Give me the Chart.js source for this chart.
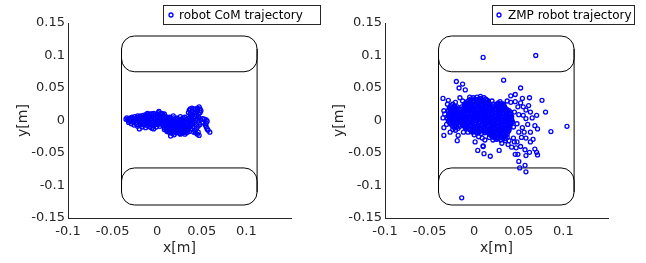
<!DOCTYPE html>
<html><head><meta charset="utf-8">
<script src="https://cdn.jsdelivr.net/npm/chart.js@4"></script>
<style>
html,body{margin:0;padding:0;background:#fff;}
#wrap{position:relative;width:646px;height:263px;overflow:hidden;}
.c{position:absolute;top:0;width:323px;height:263px;}
</style></head><body>
<div id="wrap">
<div class="c" style="left:0"><canvas id="c1"></canvas></div>
<div class="c" style="left:323px"><canvas id="c2"></canvas></div>
</div>
<script>
// ---- axes ----
const xTicks = [-0.1, -0.05, 0, 0.05, 0.1];
const yTicks = [-0.15, -0.1, -0.05, 0, 0.05, 0.1, 0.15];
const xRange = [-0.1, 0.15];
const yRange = [-0.15, 0.15];
const xTitle = 'x[m]';
const yTitle = 'y[m]';
// ---- foot support outline (data units) ----
const footX = [-0.04, 0.112];
const footTopBand = [0.075, 0.13];
const footBottomBand = [-0.13, -0.073];
// ---- series ----
const comLabel = 'robot CoM trajectory';
const zmpLabel = 'ZMP robot trajectory';

const comPoints = [
[-0.035,0.002],[-0.034,0.004],[-0.033,0.001],[-0.032,0.003],[-0.031,-0.001],[-0.030,0.004],[-0.029,0.001],[-0.028,0.005],[-0.027,-0.002],[-0.026,0.003],[-0.025,0.006],[-0.024,0.000],[-0.023,0.004],[-0.022,-0.003],[-0.021,0.005],[-0.020,0.001],[-0.019,0.007],[-0.018,-0.002],[-0.017,0.004],[-0.016,0.008],[-0.015,0.000],[-0.014,0.005],[-0.013,-0.003],[-0.012,0.007],[-0.011,0.002],[-0.010,0.009],[-0.009,-0.001],[-0.008,0.006],[-0.007,0.003],[-0.006,0.010],[-0.005,-0.002],[-0.004,0.007],[-0.003,0.002],[-0.002,0.009],[-0.001,-0.003],[0.000,0.005],[0.001,0.012],[0.002,0.001],[0.003,0.008],[0.004,-0.002],[0.005,0.006],[0.006,0.010],[0.007,0.002],[0.008,0.007],
[-0.032,-0.003],[-0.029,-0.005],[-0.026,-0.007],[-0.024,-0.004],[-0.022,-0.009],[-0.020,-0.013],[-0.019,-0.006],[-0.017,-0.010],[-0.015,-0.007],[-0.013,-0.011],[-0.011,-0.008],[-0.009,-0.005],[-0.008,-0.010],[-0.006,-0.012],[-0.004,-0.013],[-0.003,-0.007],[-0.001,-0.010],[0.001,-0.006],[0.003,-0.009],[0.005,-0.004],
[-0.022,0.007],[-0.018,0.006],[-0.013,0.009],[-0.011,0.011],[-0.008,0.010],[-0.004,0.011],[0.000,0.010],[0.002,0.014],[0.005,0.011],[0.008,0.010],[-0.015,0.003],[-0.010,0.004],[-0.006,0.002],[-0.002,0.004],[0.002,0.005],[-0.020,-0.004],[-0.017,0.001],[-0.012,-0.005],[-0.007,-0.006],[-0.003,-0.004],[0.001,-0.002],[0.004,0.003],
[-0.030,0.001],[-0.027,0.003],[-0.024,0.002],[-0.021,0.000],[-0.018,0.002],[-0.015,0.004],[-0.012,0.001],[-0.009,0.003],[-0.006,0.000],[-0.003,0.001],[0.000,0.000],[0.003,0.002],[0.006,0.000],[-0.023,-0.006],[-0.016,-0.004],[-0.010,-0.002],[-0.005,-0.008],[-0.002,-0.005],[0.002,-0.004],[0.006,-0.003],
[0.010,0.006],[0.014,0.005],[0.018,0.007],[0.022,0.004],[0.026,0.006],[0.031,0.005],
[0.009,0.003],[0.012,0.002],[0.016,0.003],[0.019,0.001],[0.023,0.003],[0.027,0.002],[0.031,0.001],[0.034,0.003],
[0.008,0.000],[0.011,-0.001],[0.014,0.000],[0.017,-0.002],[0.020,0.000],[0.024,-0.001],[0.028,0.000],[0.032,-0.002],[0.036,0.000],
[0.007,-0.004],[0.010,-0.003],[0.013,-0.005],[0.016,-0.003],[0.019,-0.004],[0.022,-0.003],[0.025,-0.005],[0.029,-0.003],[0.033,-0.004],[0.037,-0.003],
[0.006,-0.007],[0.009,-0.008],[0.012,-0.006],[0.015,-0.008],[0.018,-0.007],[0.021,-0.008],[0.024,-0.006],[0.027,-0.008],[0.030,-0.007],[0.034,-0.008],[0.038,-0.006],
[0.008,-0.011],[0.011,-0.010],[0.014,-0.011],[0.017,-0.009],[0.020,-0.011],[0.023,-0.010],[0.026,-0.012],[0.029,-0.010],[0.032,-0.011],[0.036,-0.010],
[0.010,-0.013],[0.013,-0.014],[0.016,-0.012],[0.019,-0.014],[0.022,-0.013],[0.025,-0.014],[0.028,-0.012],[0.031,-0.014],[0.035,-0.013],
[0.012,-0.016],[0.015,-0.017],[0.018,-0.016],[0.021,-0.017],[0.024,-0.015],[0.027,-0.017],[0.030,-0.016],[0.034,-0.016],
[0.014,-0.019],[0.017,-0.020],[0.021,-0.019],[0.025,-0.020],[0.029,-0.019],[0.033,-0.019],
[0.012,0.004],[0.015,0.001],[0.018,0.004],[0.021,0.002],[0.025,0.001],[0.029,0.004],[0.033,0.001],[0.010,-0.002],[0.013,-0.002],[0.018,-0.001],[0.022,-0.002],[0.026,-0.002],[0.030,-0.001],[0.034,-0.002],
[0.009,-0.005],[0.012,-0.009],[0.015,-0.006],[0.018,-0.010],[0.021,-0.006],[0.024,-0.009],[0.027,-0.005],[0.031,-0.009],[0.035,-0.006],[0.012,-0.012],[0.015,-0.014],[0.018,-0.012],[0.021,-0.015],[0.024,-0.012],[0.027,-0.015],[0.030,-0.012],[0.033,-0.015],[0.016,-0.018],[0.020,-0.018],[0.023,-0.017],[0.027,-0.019],[0.031,-0.017],
[0.015,-0.024],[0.019,-0.022],[0.026,-0.021],[0.031,-0.021],[0.011,-0.017],[0.008,-0.014],
[0.035,0.012],[0.036,0.016],[0.037,0.018],[0.039,0.019],[0.041,0.018],[0.043,0.017],[0.045,0.019],[0.047,0.021],[0.048,0.018],[0.049,0.015],[0.048,0.012],[0.046,0.010],[0.044,0.008],[0.042,0.006],[0.040,0.009],[0.038,0.005],[0.039,0.002],[0.041,0.003],[0.043,0.000],[0.045,0.002],[0.047,0.004],[0.049,0.001],[0.051,0.003],[0.053,0.002],[0.055,0.001],[0.056,-0.001],[0.055,-0.004],[0.054,-0.007],[0.055,-0.010],[0.056,-0.013],[0.057,-0.015],[0.059,-0.018],[0.050,-0.003],[0.048,-0.006],[0.046,-0.009],[0.044,-0.012],[0.042,-0.015],[0.041,-0.018],[0.043,-0.019],[0.045,-0.021],[0.047,-0.023],[0.046,-0.018],[0.040,-0.010],[0.039,-0.006],[0.038,-0.013],[0.036,-0.017],[0.037,0.010],[0.039,0.013],
[0.043,0.013],[0.045,0.015],[0.046,0.006],[0.042,-0.003],[0.044,-0.006],[0.040,-0.002],[0.036,0.004],[0.038,0.008],[0.041,0.012]
];

const zmpDense = [
[-0.001,0.035],[0.003,0.036],[0.007,0.034],[0.011,0.035],
[-0.006,0.031],[-0.002,0.030],[0.002,0.032],[0.006,0.031],[0.010,0.030],[0.014,0.031],
[-0.009,0.027],[-0.005,0.026],[-0.001,0.028],[0.003,0.027],[0.007,0.026],[0.011,0.027],[0.015,0.026],[0.027,0.027],[0.031,0.026],
[-0.026,0.023],[-0.022,0.022],[-0.011,0.023],[-0.007,0.022],[-0.003,0.024],[0.001,0.023],[0.005,0.022],[0.009,0.023],[0.013,0.022],[0.017,0.023],[0.021,0.022],[0.025,0.023],[0.029,0.022],[0.033,0.023],
[-0.028,0.019],[-0.024,0.018],[-0.020,0.019],[-0.016,0.018],[-0.012,0.019],[-0.008,0.018],[-0.004,0.020],[0.000,0.019],[0.004,0.018],[0.008,0.019],[0.012,0.018],[0.016,0.019],[0.020,0.018],[0.024,0.019],[0.028,0.018],[0.032,0.019],[0.036,0.018],
[-0.029,0.015],[-0.025,0.014],[-0.021,0.015],[-0.017,0.016],[-0.013,0.014],[-0.009,0.015],[-0.005,0.014],[-0.001,0.015],[0.003,0.016],[0.007,0.014],[0.011,0.015],[0.015,0.014],[0.019,0.015],[0.023,0.016],[0.027,0.014],[0.031,0.015],[0.035,0.014],[0.039,0.015],
[-0.028,0.011],[-0.024,0.010],[-0.020,0.011],[-0.016,0.012],[-0.012,0.010],[-0.008,0.011],[-0.004,0.010],[0.000,0.011],[0.004,0.012],[0.008,0.010],[0.012,0.011],[0.016,0.010],[0.020,0.011],[0.024,0.012],[0.028,0.010],[0.032,0.011],[0.036,0.010],[0.040,0.011],
[-0.029,0.007],[-0.025,0.006],[-0.021,0.007],[-0.017,0.008],[-0.013,0.006],[-0.009,0.007],[-0.005,0.006],[-0.001,0.007],[0.003,0.008],[0.007,0.006],[0.011,0.007],[0.015,0.006],[0.019,0.007],[0.023,0.008],[0.027,0.006],[0.031,0.007],[0.035,0.006],[0.039,0.007],[0.042,0.006],
[-0.030,0.003],[-0.026,0.002],[-0.022,0.003],[-0.018,0.004],[-0.014,0.002],[-0.010,0.003],[-0.006,0.002],[-0.002,0.003],[0.002,0.004],[0.006,0.002],[0.010,0.003],[0.014,0.002],[0.018,0.003],[0.022,0.004],[0.026,0.002],[0.030,0.003],[0.034,0.002],[0.038,0.003],[0.042,0.002],
[-0.029,-0.001],[-0.025,-0.002],[-0.021,-0.001],[-0.017,0.000],[-0.013,-0.002],[-0.009,-0.001],[-0.005,-0.002],[-0.001,-0.001],[0.003,0.000],[0.007,-0.002],[0.011,-0.001],[0.015,-0.002],[0.019,-0.001],[0.023,0.000],[0.027,-0.002],[0.031,-0.001],[0.035,-0.002],[0.039,-0.001],[0.043,-0.002],
[-0.027,-0.005],[-0.023,-0.006],[-0.019,-0.005],[-0.015,-0.004],[-0.011,-0.006],[-0.007,-0.005],[-0.003,-0.006],[0.001,-0.005],[0.005,-0.004],[0.009,-0.006],[0.013,-0.005],[0.017,-0.006],[0.021,-0.005],[0.025,-0.004],[0.029,-0.006],[0.033,-0.005],[0.037,-0.006],[0.041,-0.005],
[-0.024,-0.009],[-0.020,-0.010],[-0.016,-0.009],[-0.012,-0.008],[-0.008,-0.010],[-0.004,-0.009],[0.000,-0.010],[0.004,-0.009],[0.008,-0.008],[0.012,-0.010],[0.016,-0.009],[0.020,-0.010],[0.024,-0.009],[0.028,-0.008],[0.032,-0.010],[0.036,-0.009],[0.040,-0.010],
[-0.009,-0.013],[-0.005,-0.014],[-0.001,-0.013],[0.003,-0.012],[0.007,-0.014],[0.011,-0.013],[0.015,-0.014],[0.019,-0.013],[0.023,-0.012],[0.027,-0.014],[0.031,-0.013],[0.035,-0.014],[0.039,-0.013],
[-0.002,-0.017],[0.002,-0.018],[0.006,-0.017],[0.010,-0.016],[0.014,-0.018],[0.018,-0.017],[0.022,-0.018],[0.026,-0.016],[0.030,-0.017],[0.034,-0.018],[0.038,-0.017],
[0.017,-0.021],[0.021,-0.022],[0.025,-0.021],[0.029,-0.020],[0.033,-0.022],[0.037,-0.021],
[0.021,-0.025],[0.025,-0.026],[0.029,-0.024],[0.033,-0.025],[0.037,-0.026],
[0.025,-0.029],[0.030,-0.030],[0.035,-0.028],
[0.001,0.033],[0.005,0.033],[0.009,0.032],[-0.004,0.033],[0.013,0.033],
[-0.008,0.029],[-0.004,0.029],[0.000,0.029],[0.004,0.030],[0.008,0.029],[0.012,0.028],[0.016,0.029],[0.029,0.029],
[-0.024,0.025],[-0.011,0.025],[-0.007,0.025],[-0.003,0.026],[0.001,0.025],[0.005,0.024],[0.009,0.025],[0.013,0.025],[0.017,0.026],[0.021,0.025],[0.025,0.025],[0.029,0.024],[0.033,0.025],
[-0.027,0.021],[-0.023,0.020],[-0.019,0.021],[-0.014,0.021],[-0.010,0.021],[-0.006,0.020],[-0.002,0.021],[0.002,0.021],[0.006,0.020],[0.010,0.021],[0.014,0.021],[0.018,0.020],[0.022,0.021],[0.026,0.021],[0.030,0.020],[0.034,0.021],
[-0.027,0.017],[-0.023,0.016],[-0.019,0.017],[-0.015,0.017],[-0.011,0.016],[-0.007,0.017],[-0.003,0.017],[0.001,0.016],[0.005,0.017],[0.009,0.017],[0.013,0.016],[0.017,0.017],[0.021,0.017],[0.025,0.016],[0.029,0.017],[0.033,0.017],[0.037,0.016],
[-0.027,0.013],[-0.023,0.012],[-0.019,0.013],[-0.015,0.013],[-0.011,0.012],[-0.007,0.013],[-0.003,0.013],[0.001,0.012],[0.005,0.013],[0.009,0.013],[0.013,0.012],[0.017,0.013],[0.021,0.013],[0.025,0.012],[0.029,0.013],[0.033,0.013],[0.037,0.012],[0.041,0.013],
[-0.027,0.009],[-0.023,0.008],[-0.019,0.009],[-0.015,0.010],[-0.011,0.008],[-0.007,0.009],[-0.003,0.009],[0.001,0.008],[0.005,0.009],[0.009,0.010],[0.013,0.008],[0.017,0.009],[0.021,0.009],[0.025,0.008],[0.029,0.009],[0.033,0.010],[0.037,0.008],[0.041,0.009],
[-0.028,0.005],[-0.024,0.004],[-0.020,0.005],[-0.016,0.005],[-0.012,0.004],[-0.008,0.005],[-0.004,0.005],[0.000,0.004],[0.004,0.005],[0.008,0.005],[0.012,0.004],[0.016,0.005],[0.020,0.005],[0.024,0.004],[0.028,0.005],[0.032,0.005],[0.036,0.004],[0.040,0.005],
[-0.028,0.001],[-0.024,0.000],[-0.020,0.001],[-0.016,0.002],[-0.012,0.000],[-0.008,0.001],[-0.004,0.001],[0.000,0.000],[0.004,0.001],[0.008,0.002],[0.012,0.000],[0.016,0.001],[0.020,0.001],[0.024,0.000],[0.028,0.001],[0.032,0.002],[0.036,0.000],[0.040,0.001],[0.042,0.000],
[-0.027,-0.003],[-0.023,-0.004],[-0.019,-0.003],[-0.015,-0.002],[-0.011,-0.004],[-0.007,-0.003],[-0.003,-0.003],[0.001,-0.004],[0.005,-0.003],[0.009,-0.002],[0.013,-0.004],[0.017,-0.003],[0.021,-0.003],[0.025,-0.004],[0.029,-0.003],[0.033,-0.002],[0.037,-0.004],[0.041,-0.003],
[-0.025,-0.007],[-0.021,-0.008],[-0.017,-0.007],[-0.013,-0.006],[-0.009,-0.008],[-0.005,-0.007],[-0.001,-0.007],[0.003,-0.008],[0.007,-0.007],[0.011,-0.006],[0.015,-0.008],[0.019,-0.007],[0.023,-0.007],[0.027,-0.008],[0.031,-0.007],[0.035,-0.006],[0.039,-0.008],
[-0.022,-0.011],[-0.018,-0.012],[-0.010,-0.011],[-0.006,-0.012],[-0.002,-0.011],[0.002,-0.010],[0.006,-0.012],[0.010,-0.011],[0.014,-0.011],[0.018,-0.012],[0.022,-0.011],[0.026,-0.010],[0.030,-0.012],[0.034,-0.011],[0.038,-0.011],
[-0.004,-0.015],[0.000,-0.016],[0.004,-0.015],[0.008,-0.014],[0.012,-0.016],[0.016,-0.015],[0.020,-0.015],[0.024,-0.016],[0.028,-0.015],[0.032,-0.014],[0.036,-0.016],[0.039,-0.015],
[0.004,-0.019],[0.008,-0.020],[0.012,-0.019],[0.016,-0.019],[0.020,-0.020],[0.024,-0.019],[0.028,-0.018],[0.032,-0.020],[0.036,-0.019],
[0.019,-0.023],[0.023,-0.024],[0.027,-0.023],[0.031,-0.023],[0.035,-0.024],
[0.023,-0.027],[0.027,-0.028],[0.032,-0.027],[0.035,-0.031]
];

const zmpSparse = [
[0.010,0.097],[0.069,0.100],[-0.014,-0.119],
[-0.020,0.060],[-0.013,0.056],[-0.017,0.050],[-0.010,0.047],[0.033,0.062],[0.052,0.050],[0.046,0.040],[0.041,0.038],[0.076,0.031],[0.080,0.013],[0.104,-0.009],[0.086,-0.017],[0.071,-0.013],
[-0.035,0.034],[-0.016,0.035],[-0.029,0.031],[-0.005,0.036],[-0.022,0.022],[-0.019,0.010],[-0.034,0.015],[-0.035,0.004],[-0.034,-0.011],[-0.034,-0.023],[-0.027,-0.018],[-0.021,-0.015],[-0.019,-0.031],[-0.018,-0.023],[-0.007,-0.018],[-0.002,-0.018],
[0.001,-0.033],[0.004,-0.046],[0.010,-0.040],[0.011,-0.051],[0.018,-0.055],[0.009,-0.027],[0.017,-0.026],[0.031,-0.035],[0.038,-0.037],[0.028,-0.046],[0.042,-0.041],[0.047,-0.042],[0.046,-0.052],[0.049,-0.052],[0.058,-0.054],[0.057,-0.045],[0.063,-0.033],[0.068,-0.044],[0.070,-0.049],[0.071,-0.053],[0.050,-0.063],[0.051,-0.073],[0.057,-0.069],[0.058,-0.079],[0.062,-0.049],[0.066,-0.029],[0.058,-0.027],[0.056,-0.018],[0.063,-0.018],[0.068,-0.008],[0.070,0.008],[0.063,0.013],[0.061,0.023],[0.055,0.021],[0.049,0.021],[0.046,0.029],[0.054,0.034],[0.062,0.035],[0.055,0.008],[0.050,0.009],[0.045,0.013],[0.041,0.028],[0.033,0.024],[0.027,0.026],[0.015,0.031],[0.007,0.037],[0.048,-0.005],[0.044,-0.010],[0.050,-0.018],[0.053,-0.026],[0.044,-0.027],[0.048,-0.033],
[-0.033,0.010],[-0.031,-0.006],[-0.030,0.025],[-0.024,-0.014],[-0.012,-0.018],[-0.010,0.026],[-0.013,0.030],[-0.021,0.028],[0.000,-0.022],[0.005,-0.025],[0.012,-0.030],[0.010,-0.039],[0.021,-0.030],[0.039,-0.031],[0.045,-0.033],[0.052,-0.040],[0.054,-0.011],[0.058,0.003],[0.060,-0.006],[0.065,0.004],[0.052,0.027],[0.058,0.016],[0.037,0.030],[0.020,0.030]
];

// ---- styling ----
const FONT = 'DejaVu Sans';
const AXIS_COLOR = '#262626';
const MARK_COLOR = '#0000ff';

const fmt = v => String(Math.round(v * 100) / 100);

const footPlugin = {
  id: 'foot',
  beforeDatasetsDraw(chart) {
    const {ctx, scales: {x, y}} = chart;
    const xl = x.getPixelForValue(footX[0]), xr = x.getPixelForValue(footX[1]);
    const r = 13;
    ctx.save();
    ctx.strokeStyle = '#000';
    ctx.lineWidth = 1;
    const band = (ylo, yhi) => {
      const t = y.getPixelForValue(yhi), b = y.getPixelForValue(ylo);
      ctx.beginPath();
      ctx.roundRect(xl, t, xr - xl, b - t, r);
      ctx.stroke();
    };
    band(footTopBand[0], footTopBand[1]);
    band(footBottomBand[0], footBottomBand[1]);
    const yt = y.getPixelForValue(footTopBand[1]) + r, yb = y.getPixelForValue(footBottomBand[0]) - r;
    ctx.beginPath();
    ctx.moveTo(xl, yt); ctx.lineTo(xl, yb);
    ctx.moveTo(xr, yt); ctx.lineTo(xr, yb);
    ctx.stroke();
    ctx.restore();
  }
};

const legendPlugin = {
  id: 'boxLegend',
  afterDraw(chart, args, opts) {
    const {ctx} = chart;
    const label = chart.data.datasets[0].label;
    ctx.save();
    ctx.fillStyle = '#fff';
    ctx.fillRect(opts.x, opts.y, opts.w, opts.h);
    ctx.strokeStyle = AXIS_COLOR;
    ctx.lineWidth = 1;
    ctx.strokeRect(opts.x + 0.5, opts.y + 0.5, opts.w, opts.h);
    ctx.beginPath();
    ctx.strokeStyle = MARK_COLOR;
    ctx.lineWidth = 1.3;
    ctx.arc(opts.mx, opts.y + opts.h / 2 + 0.5, 2, 0, Math.PI * 2);
    ctx.stroke();
    ctx.fillStyle = '#000';
    ctx.font = '12px "' + FONT + '"';
    ctx.textBaseline = 'middle';
    ctx.fillText(label, opts.tx, opts.y + opts.h / 2 + 1);
    ctx.restore();
  }
};

function makeChart(id, label, pts, yAxisW, padRight, yTitlePad, legendOpts) {
  return new Chart(document.getElementById(id), {
    type: 'scatter',
    data: {
      datasets: [{
        label: label,
        data: pts.map(p => ({x: p[0], y: p[1]})),
        pointStyle: 'circle',
        pointRadius: 2,
        borderWidth: 1.3,
        borderColor: MARK_COLOR,
        backgroundColor: 'rgba(0,0,0,0)',
        pointHoverRadius: 2
      }]
    },
    options: {
      responsive: true,
      maintainAspectRatio: false,
      animation: false,
      events: [],
      layout: {padding: {left: 0, top: 23, right: padRight, bottom: 0}},
      plugins: {legend: {display: false}, tooltip: {enabled: false}, boxLegend: legendOpts},
      scales: {
        x: {
          type: 'linear', min: xRange[0], max: xRange[1],
          afterBuildTicks: s => { s.ticks = xTicks.map(v => ({value: v})); },
          afterFit: s => { s.height = 45; },
          grid: {display: false, drawTicks: false},
          border: {display: true, color: AXIS_COLOR, width: 1},
          ticks: {callback: fmt, color: AXIS_COLOR, padding: 6, maxRotation: 0, autoSkip: false, font: {family: FONT, size: 13}},
          title: {display: true, text: xTitle, color: AXIS_COLOR, padding: {top: 0, bottom: 6}, font: {family: FONT, size: 14}}
        },
        y: {
          type: 'linear', min: yRange[0], max: yRange[1],
          afterBuildTicks: s => { s.ticks = yTicks.map(v => ({value: v})); },
          afterFit: s => { s.width = yAxisW; },
          grid: {display: false, drawTicks: false},
          border: {display: true, color: AXIS_COLOR, width: 1},
          ticks: {callback: fmt, color: AXIS_COLOR, padding: 3, autoSkip: false, font: {family: FONT, size: 13}},
          title: {display: true, text: yTitle, color: AXIS_COLOR, padding: {top: yTitlePad, bottom: 0}, font: {family: FONT, size: 14}}
        }
      }
    },
    plugins: [footPlugin, legendPlugin]
  });
}

makeChart('c1', comLabel, comPoints, 68, 32, 15, {x: 163, y: 5, w: 157, h: 19, mx: 171, tx: 179});
makeChart('c2', zmpLabel, zmpDense.concat(zmpSparse), 62, 38, 8, {x: 169, y: 5, w: 142, h: 19, mx: 176, tx: 185});
</script>
</body></html>
